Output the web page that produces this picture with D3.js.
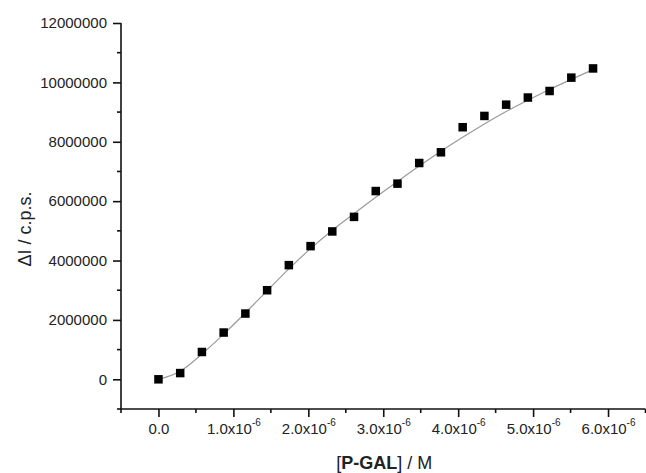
<!DOCTYPE html>
<html>
<head>
<meta charset="utf-8">
<script src="https://cdn.jsdelivr.net/npm/d3@7"></script>
<style>
  html, body { margin: 0; padding: 0; background: #fff; }
  svg { display: block; font-family: Arial, "Liberation Sans", sans-serif; }
</style>
</head>
<body>
<svg id="chart" width="646" height="473"></svg>
<script>
// Titration data: concentration of P-GAL (M) vs. fluorescence change (c.p.s.)
const concentration = [0, 0.29e-6, 0.58e-6, 0.87e-6, 1.16e-6, 1.45e-6, 1.74e-6, 2.03e-6, 2.32e-6, 2.61e-6,
  2.90e-6, 3.19e-6, 3.48e-6, 3.77e-6, 4.06e-6, 4.35e-6, 4.64e-6, 4.93e-6, 5.22e-6, 5.51e-6, 5.80e-6];
const deltaI = [0, 210000, 920000, 1575000, 2215000, 3000000, 3845000, 4485000, 4980000, 5470000,
  6340000, 6590000, 7285000, 7645000, 8490000, 8870000, 9250000, 9490000, 9710000, 10160000, 10470000];

// Smooth fitted curve evaluated at the same concentrations
const fitValues = [0, 270000, 850000, 1520000, 2240000, 2980000, 3720000, 4400000, 5020000, 5580000,
  6130000, 6660000, 7180000, 7680000, 8150000, 8600000, 9020000, 9400000, 9760000, 10100000, 10430000];

// Axis ticks
const yTickValues = [0, 2000000, 4000000, 6000000, 8000000, 10000000, 12000000];
const yTickLabels = ["0", "2000000", "4000000", "6000000", "8000000", "10000000", "12000000"];
const yMinorTicks = [-1000000, 1000000, 3000000, 5000000, 7000000, 9000000, 11000000];
const xTickValues = [0, 1e-6, 2e-6, 3e-6, 4e-6, 5e-6, 6e-6];
const xTickMantissa = ["0.0", "1.0", "2.0", "3.0", "4.0", "5.0", "6.0"];
const xTickExponent = "-6";
const xMinorTicks = [-0.5e-6, 0.5e-6, 1.5e-6, 2.5e-6, 3.5e-6, 4.5e-6, 5.5e-6, 6.5e-6];

const svg = d3.select("#chart");
const plotLeft = 121, plotRight = 645.5, plotTop = 23, plotBottom = 409;

const x = d3.scaleLinear().domain([-0.5e-6, 6.5e-6]).range([plotLeft, plotRight]);
const y = d3.scaleLinear().domain([-1000000, 12000000]).range([plotBottom, plotTop]);

// Y axis
const yAxis = d3.axisLeft(y)
  .tickValues(yTickValues)
  .tickFormat((d, i) => yTickLabels[i])
  .tickSize(8).tickPadding(6).tickSizeOuter(0);
const gy = svg.append("g").attr("transform", `translate(${plotLeft},0)`).call(yAxis);
gy.select(".domain").attr("stroke", "#111").attr("stroke-width", 1.6)
  .attr("d", `M0,${plotTop}V${plotBottom}`);
gy.selectAll(".tick line").attr("stroke", "#111").attr("stroke-width", 1.6);
gy.selectAll(".tick text").attr("fill", "#222").style("font-size", "15px")
  .style("font-family", "Arial, 'Liberation Sans', sans-serif");
gy.selectAll(".minor").data(yMinorTicks).enter().append("line")
  .attr("class", "minor")
  .attr("x1", -4).attr("x2", 0)
  .attr("y1", d => y(d)).attr("y2", d => y(d))
  .attr("stroke", "#111").attr("stroke-width", 1.6);

// X axis
const xAxis = d3.axisBottom(x)
  .tickValues(xTickValues)
  .tickFormat("")
  .tickSize(8).tickPadding(6).tickSizeOuter(0);
const gx = svg.append("g").attr("transform", `translate(0,${plotBottom})`).call(xAxis);
gx.select(".domain").attr("stroke", "#111").attr("stroke-width", 1.6)
  .attr("d", `M${plotLeft},0H${plotRight}`);
gx.selectAll(".tick line").attr("stroke", "#111").attr("stroke-width", 1.6);
gx.selectAll(".minor").data(xMinorTicks).enter().append("line")
  .attr("class", "minor")
  .attr("y1", 0).attr("y2", 4)
  .attr("x1", d => x(d)).attr("x2", d => x(d))
  .attr("stroke", "#111").attr("stroke-width", 1.6);

// X tick labels with scientific-notation superscripts
gx.selectAll(".tick").each(function (d, i) {
  const t = d3.select(this).append("text")
    .attr("y", 25)
    .attr("fill", "#222")
    .attr("text-anchor", "middle")
    .style("font-size", "15px");
  if (d === 0) {
    t.text(xTickMantissa[i]);
  } else {
    t.append("tspan").text(xTickMantissa[i] + "x10");
    t.append("tspan").attr("dy", -8).style("font-size", "10px").text(xTickExponent);
  }
});

// Fitted curve
const line = d3.line()
  .x((d, i) => x(concentration[i]))
  .y(d => y(d))
  .curve(d3.curveMonotoneX);
svg.append("path")
  .datum(fitValues)
  .attr("d", line)
  .attr("fill", "none")
  .attr("stroke", "#9a9a9a")
  .attr("stroke-width", 1.2);

// Data markers
const size = 8.5;
svg.append("g").selectAll("rect")
  .data(deltaI)
  .enter().append("rect")
  .attr("x", (d, i) => x(concentration[i]) - size / 2)
  .attr("y", d => y(d) - size / 2)
  .attr("width", size).attr("height", size)
  .attr("fill", "#000");

// Axis titles
svg.append("text")
  .attr("transform", `translate(31,${(plotTop + plotBottom) / 2 + 13}) rotate(-90)`)
  .attr("text-anchor", "middle")
  .attr("fill", "#222")
  .style("font-size", "18px")
  .text("ΔI / c.p.s.");

const xt = svg.append("text")
  .attr("x", (plotLeft + plotRight) / 2 + 1)
  .attr("y", 469)
  .attr("text-anchor", "middle")
  .attr("fill", "#222")
  .style("font-size", "18px");
xt.append("tspan").text("[");
xt.append("tspan").attr("font-weight", "bold").text("P-GAL");
xt.append("tspan").text("] / M");
</script>
</body>
</html>
